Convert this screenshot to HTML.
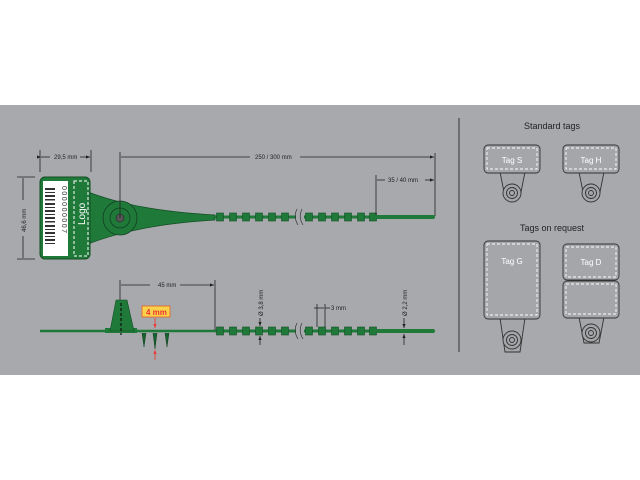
<!DOCTYPE html>
<html><head><style>
html,body{margin:0;padding:0;background:#fff;}
svg{display:block;font-family:"Liberation Sans",sans-serif;}
</style></head><body>
<svg width="640" height="480" viewBox="0 0 640 480" xmlns="http://www.w3.org/2000/svg">
<rect x="0" y="105" width="640" height="270" fill="#a7a9ac"/>
<defs>
<g id="bead"><rect x="-3.5" y="-4" width="7" height="8" fill="#1f7a3a" stroke="#144d25" stroke-width="0.6"/></g>
<marker id="ar" markerWidth="6" markerHeight="6" refX="5" refY="3" orient="auto"><path d="M0,1 L5,3 L0,5Z" fill="#222"/></marker>
<marker id="ra" markerWidth="6" markerHeight="6" refX="5" refY="3" orient="auto"><path d="M0,1 L5,3 L0,5Z" fill="#e33"/></marker>
</defs>
<!-- top tag -->
<path d="M88,192 C125,206 165,212 215,215 L215,220 C165,223 125,230 88,244Z" fill="#1f7a3a" stroke="#144d25" stroke-width="0.7"/>
<rect x="40" y="177" width="50" height="82" rx="5" fill="#1f7a3a" stroke="#144d25"/>
<rect x="43" y="181" width="25" height="75" fill="#fff"/>
<g fill="#333"><rect x="45" y="188" width="10" height="2"/><rect x="45" y="192" width="10" height="1"/><rect x="45" y="195" width="10" height="2"/><rect x="45" y="199" width="10" height="1.5"/><rect x="45" y="203" width="10" height="2"/><rect x="45" y="207" width="10" height="1"/><rect x="45" y="210" width="10" height="2"/><rect x="45" y="214" width="10" height="1"/><rect x="45" y="217" width="10" height="2"/><rect x="45" y="221" width="10" height="1.5"/><rect x="45" y="225" width="10" height="2"/><rect x="45" y="229" width="10" height="1"/><rect x="45" y="232" width="10" height="2"/><rect x="45" y="236" width="10" height="1"/><rect x="45" y="239" width="10" height="2"/><rect x="45" y="243" width="10" height="1"/></g>
<text x="0" y="0" font-size="7" fill="#333" transform="translate(62,186) rotate(90)" letter-spacing="1.5">000000007</text>
<rect x="74" y="181" width="14" height="75" fill="none" stroke="#fff" stroke-width="1" stroke-dasharray="3,2"/>
<text x="0" y="0" font-size="10" fill="#fff" transform="translate(85,225) rotate(-90)">Logo</text>
<circle cx="120" cy="218" r="17" fill="#1f7a3a" stroke="#123d20" stroke-width="0.8"/>
<circle cx="120" cy="218" r="10" fill="none" stroke="#123d20" stroke-width="0.8"/>
<circle cx="120" cy="218" r="4" fill="#555" stroke="#222" stroke-width="0.6"/>
<!-- chain top -->
<line x1="215" y1="217" x2="375" y2="217" stroke="#1f7a3a" stroke-width="3"/>
<g transform="translate(0,217)">
<use href="#bead" x="220"/><use href="#bead" x="233"/><use href="#bead" x="246"/><use href="#bead" x="259"/><use href="#bead" x="272"/><use href="#bead" x="285"/>
<use href="#bead" x="309"/><use href="#bead" x="322"/><use href="#bead" x="335"/><use href="#bead" x="348"/><use href="#bead" x="361"/><use href="#bead" x="373"/>
</g>
<rect x="296" y="208" width="8" height="18" fill="#a7a9ac"/>
<path d="M297,209 q-4,8 1,16 M302,209 q-4,8 1,16" stroke="#333" fill="none" stroke-width="0.7"/>
<rect x="376" y="215" width="59" height="4" rx="2" fill="#1f7a3a"/>
<!-- top dims -->
<g stroke="#222" stroke-width="0.8" fill="none">
<line x1="40" y1="150" x2="40" y2="172"/><line x1="91" y1="150" x2="91" y2="172"/>
<line x1="41" y1="157" x2="50" y2="157" marker-start="url(#ar)"/><line x1="80" y1="157" x2="90" y2="157" marker-end="url(#ar)"/>
<line x1="17" y1="177" x2="35" y2="177"/><line x1="17" y1="259" x2="35" y2="259"/>
<line x1="23" y1="178" x2="23" y2="200"/><line x1="23" y1="236" x2="23" y2="258"/>
<line x1="120" y1="152" x2="120" y2="218"/><line x1="435" y1="153" x2="435" y2="216"/>
<line x1="121" y1="157" x2="250" y2="157"/><line x1="300" y1="157" x2="434" y2="157" marker-end="url(#ar)"/>
<line x1="376" y1="175" x2="376" y2="215"/>
<line x1="377" y1="180" x2="385" y2="180"/><line x1="425" y1="180" x2="434" y2="180" marker-end="url(#ar)"/>
</g>
<g font-size="6" fill="#222">
<text x="54" y="159">29,5 mm</text>
<text x="255" y="159">250 / 300 mm</text>
<text x="388" y="182">35 / 40 mm</text>
<text transform="translate(26,232) rotate(-90)">46,6 mm</text>
</g>
<!-- bottom tag -->
<line x1="40" y1="331" x2="215" y2="331" stroke="#1f7a3a" stroke-width="2.5"/>
<rect x="105" y="328" width="32" height="5" fill="#1f7a3a"/>
<path d="M116,300 L127,300 L134,331 L110,331Z" fill="#1f7a3a" stroke="#144d25" stroke-width="0.6"/>
<line x1="121" y1="303" x2="121" y2="335" stroke="#111" stroke-width="1.2" stroke-dasharray="3,2"/>
<path d="M142,333 l2,14 l2,-14 M153,333 l2,16 l2,-16 M165,333 l2,14 l2,-14" fill="#176030" stroke="#123d20" stroke-width="0.5"/>
<line x1="215" y1="331" x2="375" y2="331" stroke="#1f7a3a" stroke-width="3"/>
<g transform="translate(0,331)">
<use href="#bead" x="220"/><use href="#bead" x="233"/><use href="#bead" x="246"/><use href="#bead" x="259"/><use href="#bead" x="272"/><use href="#bead" x="285"/>
<use href="#bead" x="309"/><use href="#bead" x="322"/><use href="#bead" x="335"/><use href="#bead" x="348"/><use href="#bead" x="361"/><use href="#bead" x="373"/>
</g>
<rect x="296" y="322" width="8" height="18" fill="#a7a9ac"/>
<path d="M297,323 q-4,8 1,16 M302,323 q-4,8 1,16" stroke="#333" fill="none" stroke-width="0.7"/>
<rect x="376" y="329" width="59" height="4" rx="2" fill="#1f7a3a"/>
<rect x="142" y="306" width="28" height="11" fill="#f7d24a" stroke="#e85a2a" stroke-width="0.8"/>
<text x="146" y="315" font-size="8" font-weight="bold" fill="#e33">4 mm</text>
<line x1="155" y1="318" x2="155" y2="328" stroke="#e33" stroke-width="0.8" marker-end="url(#ra)"/>
<line x1="155" y1="360" x2="155" y2="350" stroke="#e33" stroke-width="0.8" marker-end="url(#ra)"/>
<g stroke="#222" stroke-width="0.8" fill="none">
<line x1="120" y1="280" x2="120" y2="300"/><line x1="215" y1="280" x2="215" y2="330"/>
<line x1="121" y1="285" x2="150" y2="285"/><line x1="180" y1="285" x2="214" y2="285" marker-end="url(#ar)"/>
<line x1="260" y1="318" x2="260" y2="326" marker-end="url(#ar)"/><line x1="260" y1="345" x2="260" y2="336" marker-end="url(#ar)"/>
<line x1="317" y1="304" x2="317" y2="327"/><line x1="325" y1="304" x2="325" y2="327"/>
<line x1="314" y1="308" x2="324" y2="308"/><line x1="325" y1="308" x2="330" y2="308"/>
<line x1="404" y1="318" x2="404" y2="328" marker-end="url(#ar)"/><line x1="404" y1="345" x2="404" y2="334" marker-end="url(#ar)"/>
</g>
<g font-size="6" fill="#222">
<text x="158" y="287">45 mm</text>
<text x="331" y="310">3 mm</text>
<text transform="translate(263,316) rotate(-90)">Ø 3,8 mm</text>
<text transform="translate(407,316) rotate(-90)">Ø 2,2 mm</text>
</g>
<!-- divider -->
<line x1="459" y1="118" x2="459" y2="352" stroke="#333" stroke-width="1"/>
<!-- right side -->
<g font-size="9" fill="#222" text-anchor="middle">
<text x="552" y="129">Standard tags</text>
<text x="552" y="231">Tags on request</text>
</g>
<g fill="#a4a6a9" stroke="#333" stroke-width="0.9">
<path d="M500,172 L505,197 L520,197 L525,172Z"/><rect x="484" y="145" width="56" height="28" rx="4"/>
<circle cx="512" cy="193" r="9"/><circle cx="512" cy="193" r="5.5"/><circle cx="512" cy="193" r="2.5"/>
<path d="M579,172 L584,197 L599,197 L604,172Z"/><rect x="563" y="145" width="56" height="28" rx="4"/>
<circle cx="591" cy="193" r="9"/><circle cx="591" cy="193" r="5.5"/><circle cx="591" cy="193" r="2.5"/>
<path d="M500,318 L505,352 L520,352 L525,318Z"/><rect x="484" y="241" width="56" height="78" rx="4"/>
<circle cx="512" cy="340" r="9"/><circle cx="512" cy="340" r="5.5"/><circle cx="512" cy="340" r="2.5"/>
<path d="M579,317 L584,343 L599,343 L604,317Z"/><rect x="563" y="244" width="56" height="36" rx="4"/><rect x="563" y="281" width="56" height="37" rx="4"/>
<circle cx="591" cy="333" r="9"/><circle cx="591" cy="333" r="5.5"/><circle cx="591" cy="333" r="2.5"/>
</g>
<g fill="none" stroke="#fff" stroke-width="0.9" stroke-dasharray="3,2">
<rect x="487" y="148" width="50" height="21"/><rect x="566" y="148" width="50" height="21"/>
<rect x="487" y="244" width="50" height="71"/><rect x="566" y="247" width="50" height="30"/><rect x="566" y="284" width="50" height="30"/>
</g>
<g font-size="8" fill="#fff" text-anchor="middle">
<text x="512" y="163">Tag S</text><text x="591" y="163">Tag H</text>
<text x="512" y="264">Tag G</text><text x="591" y="265">Tag D</text>
</g>
</svg>
</body></html>
